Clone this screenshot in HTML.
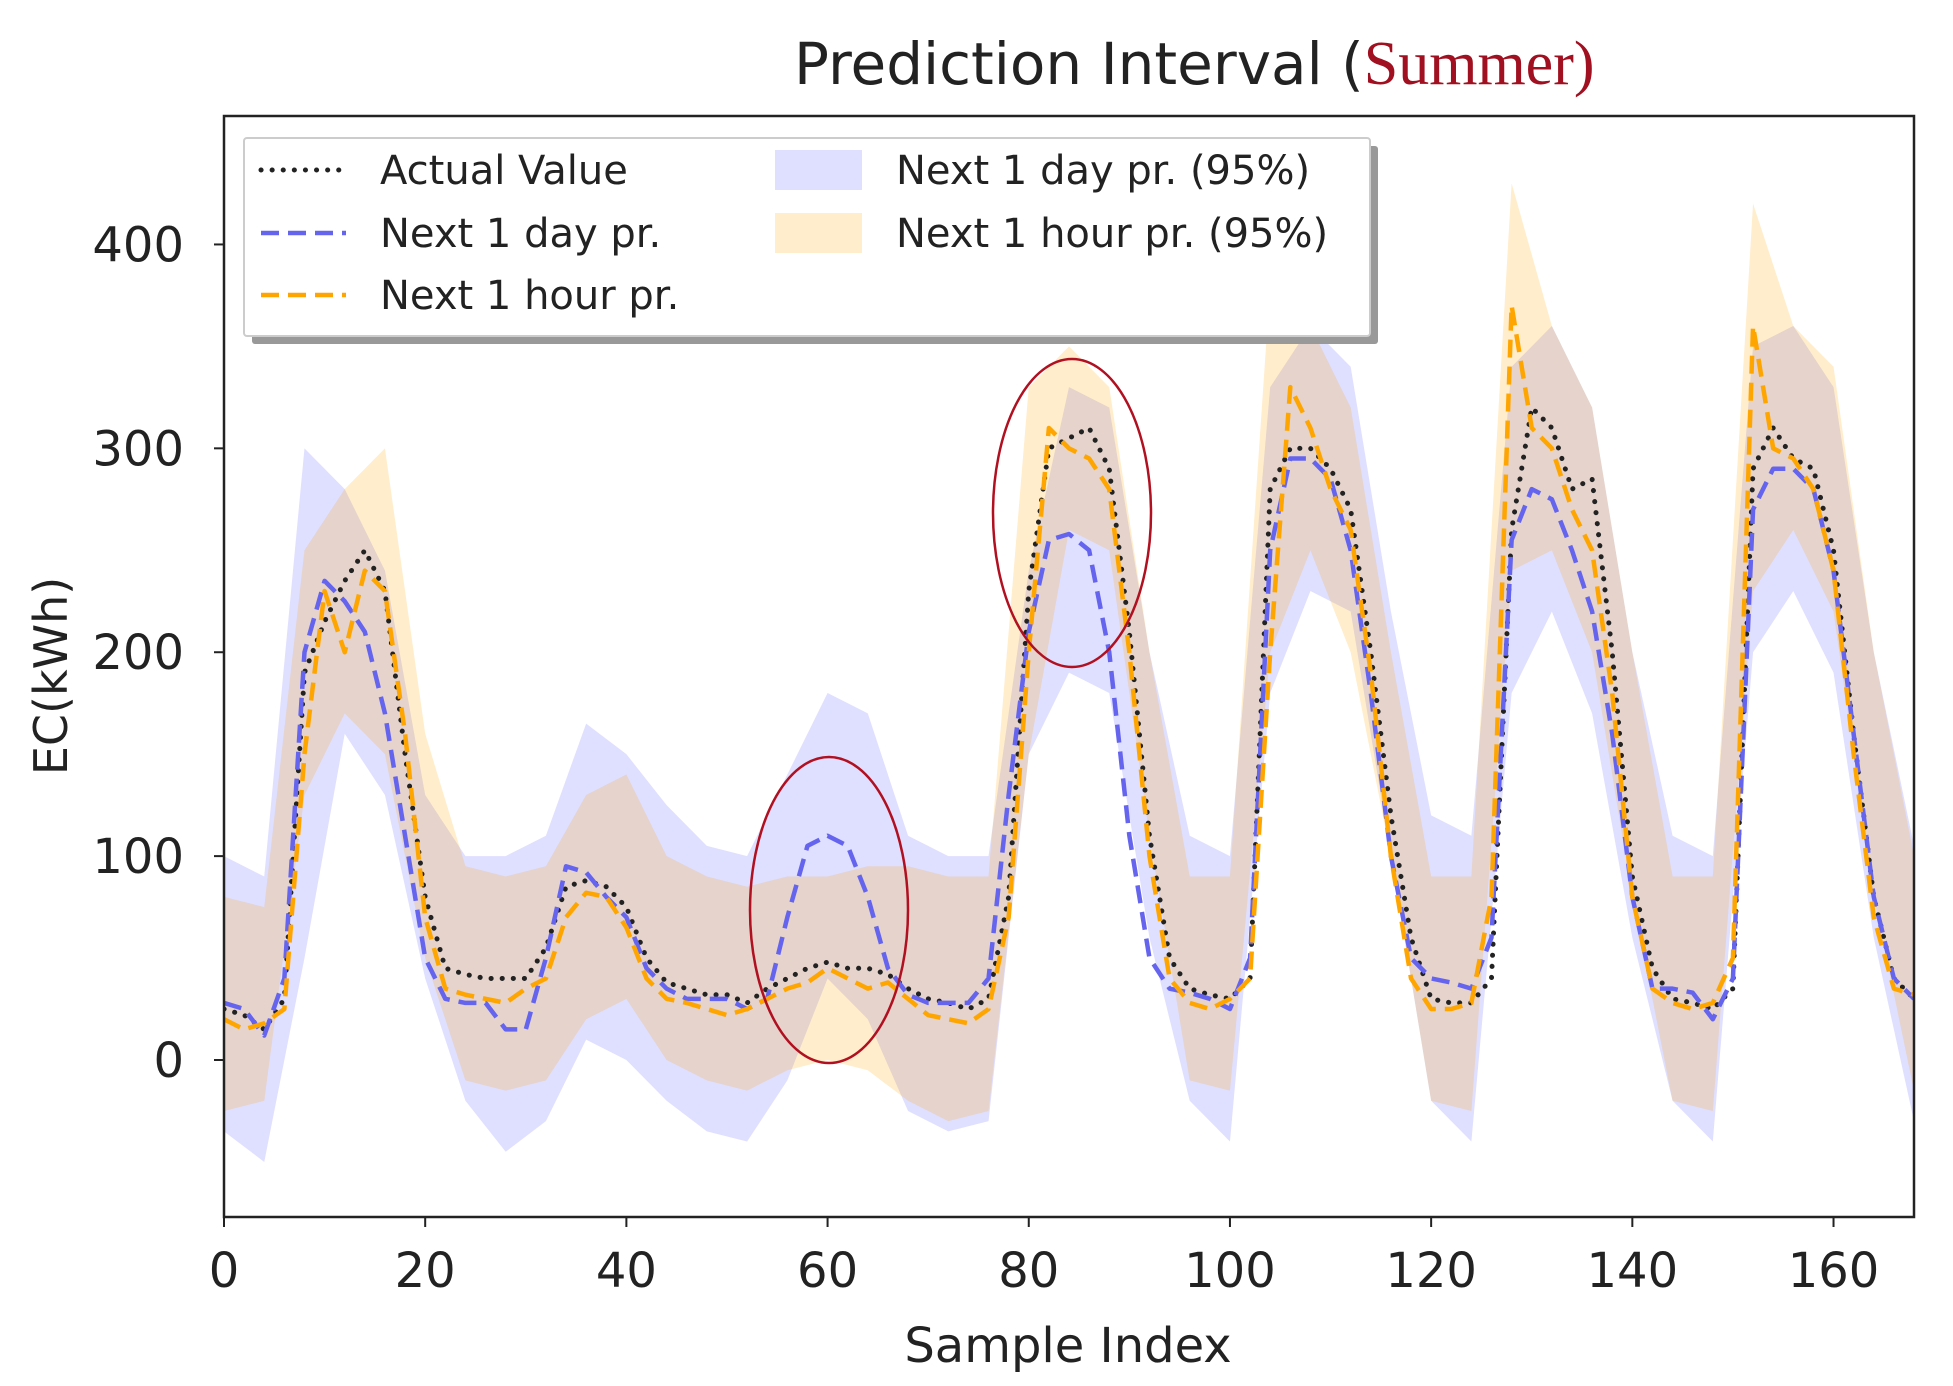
<!DOCTYPE html>
<html><head><meta charset="utf-8"><style>
html,body{margin:0;padding:0;background:#fff}
svg{display:block}
text{font-family:"DejaVu Sans","Liberation Sans",sans-serif;fill:#222}
</style></head><body>
<svg id="chart" width="1953" height="1386" viewBox="0 0 1953 1386"></svg>
<script>
const xs = [0,2,4,6,8,10,12,14,16,18,20,22,24,26,28,30,32,34,36,38,40,42,44,46,48,50,52,54,56,58,60,62,64,66,68,70,72,74,76,78,80,82,84,86,88,90,92,94,96,98,100,102,104,106,108,110,112,114,116,118,120,122,124,126,128,130,132,134,136,138,140,142,144,146,148,150,152,154,156,158,160,162,164,166,168];
const actualValues = [25,22,15,30,190,215,235,250,230,150,80,45,42,40,40,40,55,85,88,85,75,50,38,35,32,32,28,35,40,45,48,45,45,42,35,30,28,25,30,80,230,300,305,310,290,210,110,50,35,32,30,40,280,300,300,290,270,200,120,60,30,28,28,40,260,320,310,280,285,200,90,45,30,28,25,35,290,310,295,290,250,160,80,40,30];
const dayPred = [28,25,12,40,200,235,225,210,170,110,50,30,28,28,15,15,50,95,92,80,70,45,35,30,30,30,25,30,70,105,110,105,80,45,32,28,28,28,40,130,210,255,258,250,200,110,50,35,33,30,25,50,250,295,295,285,250,180,100,50,40,38,35,60,255,280,275,250,220,160,80,35,35,33,20,40,270,290,290,280,240,160,80,40,30];
const hourPred = [20,15,18,25,150,230,200,240,230,160,70,35,32,30,28,35,40,70,82,80,65,40,30,28,25,22,25,30,35,38,45,40,35,38,30,22,20,18,25,70,200,310,300,295,280,200,100,40,28,25,30,40,200,330,310,280,260,190,100,40,25,25,28,80,370,310,300,270,250,180,80,35,28,25,28,50,360,300,295,280,240,150,70,35,32];
const bandX = [0,4,8,12,16,20,24,28,32,36,40,44,48,52,56,60,64,68,72,76,80,84,88,92,96,100,104,108,112,116,120,124,128,132,136,140,144,148,152,156,160,164,168];
const dayHi = [100,90,300,280,240,130,100,100,110,165,150,125,105,100,140,180,170,110,100,100,240,330,320,200,110,100,330,360,340,220,120,110,340,360,320,200,110,100,350,360,330,200,105];
const dayLo = [-35,-50,50,160,130,40,-20,-45,-30,10,0,-20,-35,-40,-10,40,20,-25,-35,-30,150,190,180,60,-20,-40,180,230,220,100,-20,-40,180,220,170,60,-20,-40,200,230,190,60,-30];
const hourHi = [80,75,250,280,300,160,95,90,95,130,140,100,90,85,90,90,95,95,90,90,330,350,330,200,90,90,380,360,320,200,90,90,430,360,320,200,90,90,420,360,340,200,100];
const hourLo = [-25,-20,130,170,150,50,-10,-15,-10,20,30,0,-10,-15,-5,0,-5,-20,-30,-25,150,260,250,110,-10,-15,200,250,200,100,-20,-25,240,250,200,80,-20,-25,230,260,220,80,-15];
const xTicks = [0,20,40,60,80,100,120,140,160];
const yTicks = [0,100,200,300,400];

const L=224,R=1914,T=116,B=1217, X0=0,X1=168, Y0=-77,Y1=463;
const sx=v=>L+(v-X0)/(X1-X0)*(R-L);
const sy=v=>B-(v-Y0)/(Y1-Y0)*(B-T);
const svg=document.getElementById('chart');
const NS='http://www.w3.org/2000/svg';
function mk(tag,attrs,parent){const e=document.createElementNS(NS,tag);for(const k in attrs)e.setAttribute(k,attrs[k]);(parent||svg).appendChild(e);return e;}

const defs=mk('defs',{});
const cp=mk('clipPath',{id:'clip'},defs);mk('rect',{x:L,y:T,width:R-L,height:B-T},cp);
const g=mk('g',{'clip-path':'url(#clip)'});

function band(lo,hi,fill,op,name){
  let d='M'+bandX.map((x,i)=>sx(x)+','+sy(hi[i])).join('L');
  for(let i=bandX.length-1;i>=0;i--) d+='L'+sx(bandX[i])+','+sy(lo[i]);
  const p=mk('path',{d:d+'Z',fill:fill,'fill-opacity':op,stroke:'none'},g);
  
  
}
band(dayLo,dayHi,'#8080ff',0.25,'day-interval-band');
band(hourLo,hourHi,'#ffa500',0.2,'hour-interval-band');

function line(vals,color,dash,w,name){
  const d='M'+xs.map((x,i)=>sx(x)+','+sy(vals[i])).join('L');
  const p=mk('path',{d:d,fill:'none',stroke:color,'stroke-width':w,'stroke-dasharray':dash,'stroke-linecap':dash.startsWith('0')?'round':'butt','stroke-linejoin':'round'},g);
  
  
}
line(actualValues,'#222','0.1 11',5,'actual-value-line');
line(dayPred,'#6464ee','18 9',4.5,'day-prediction-line');
line(hourPred,'#ffa500','18 9',4.5,'hour-prediction-line');

const e1=mk('ellipse',{cx:829,cy:910,rx:79,ry:153,fill:'none',stroke:'#b01020','stroke-width':2.5});


const e2=mk('ellipse',{cx:1072,cy:513,rx:79,ry:154,fill:'none',stroke:'#b01020','stroke-width':2.5});



const fr=mk('rect',{x:L,y:T,width:R-L,height:B-T,fill:'none',stroke:'#222','stroke-width':2.5});



xTicks.forEach(v=>{
  mk('line',{x1:sx(v),x2:sx(v),y1:B,y2:B+10,stroke:'#222','stroke-width':2});
  const t=mk('text',{x:sx(v),y:B+70,'text-anchor':'middle','font-size':48});
  t.textContent=v;
  
  
});
yTicks.forEach(v=>{
  mk('line',{x1:L-10,x2:L,y1:sy(v),y2:sy(v),stroke:'#222','stroke-width':2});
  const t=mk('text',{x:L-40,y:sy(v)+17,'text-anchor':'end','font-size':48});
  t.textContent=v;
  
  
});
const xl=mk('text',{x:1068,y:1362,'text-anchor':'middle','font-size':48});
xl.textContent='Sample Index';


const yl=mk('text',{x:0,y:0,'text-anchor':'middle','font-size':46,transform:'translate(67,676) rotate(-90)'});
yl.textContent='EC(kWh)';



const tt=mk('text',{x:794,y:84,'font-size':58});


tt.innerHTML='Prediction Interval (<tspan style="font-family:\'Liberation Serif\',serif;fill:#a01020" font-size="62">Summer)</tspan>';

const lg=mk('g',{});


mk('rect',{x:252,y:146,width:1126,height:198,fill:'#999',rx:3},lg);
mk('rect',{x:244,y:138,width:1126,height:198,fill:'#fff',stroke:'#ccc','stroke-width':2,rx:3},lg);
const rows=[['Actual Value','#222','0.1 11',170],['Next 1 day pr.','#6464ee','18 9',233],['Next 1 hour pr.','#ffa500','18 9',295]];
rows.forEach(r=>{
  mk('line',{x1:261,x2:346,y1:r[3],y2:r[3],stroke:r[1],'stroke-width':r[2].startsWith('0')?5:4.5,'stroke-dasharray':r[2],'stroke-linecap':r[2].startsWith('0')?'round':'butt'},lg);
  const t=mk('text',{x:380,y:r[3]+14,'font-size':40},lg);
  t.textContent=r[0];
  
  
});
[['Next 1 day pr. (95%)','#8080ff',0.25,170],['Next 1 hour pr. (95%)','#ffa500',0.2,233]].forEach(r=>{
  mk('rect',{x:775,y:r[3]-20,width:87,height:40,fill:r[1],'fill-opacity':r[2]},lg);
  const t=mk('text',{x:896,y:r[3]+14,'font-size':40},lg);
  t.textContent=r[0];
  
  
});
</script>
</body></html>
